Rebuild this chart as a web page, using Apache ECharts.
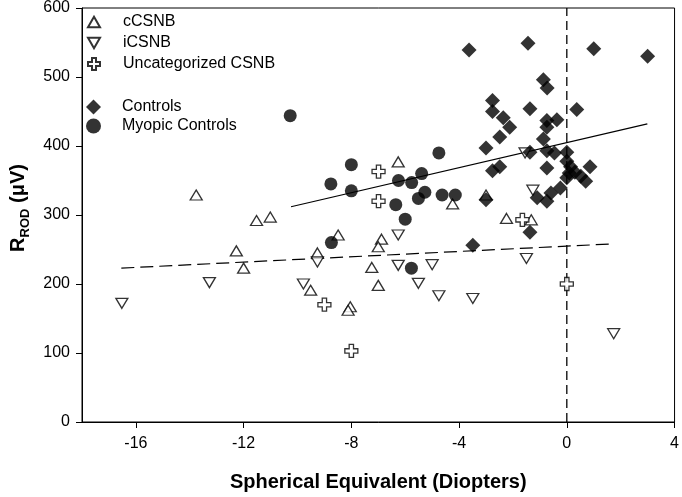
<!DOCTYPE html>
<html>
<head>
<meta charset="utf-8">
<script src="https://cdn.jsdelivr.net/npm/echarts@6/dist/echarts.min.js"></script>
<style>html,body{margin:0;padding:0;background:#fff}#c{width:682px;height:497px}</style>
</head>
<body>
<div id="c"></div>
<script>
const xTicks = [-16, -12, -8, -4, 0, 4];
const cCSNB = [[-13.76,329],[-11.52,292],[-11.01,297],[-12.27,248],[-12.0,223],[-9.26,245],[-9.51,191],[-8.49,271],[-8.04,167],[-8.12,162],[-7.24,224],[-7.0,198],[-6.88,265],[-7.0,254],[-6.26,377],[-4.24,316],[-3.0,329],[-2.24,295],[-1.32,293]];
const iCSNB = [[-16.52,172],[-13.27,202],[-9.78,200],[-9.26,232],[-6.26,271],[-6.26,227],[-5.0,228],[-5.51,201],[-4.75,183],[-3.49,179],[-1.5,237],[1.74,128],[-1.26,336],[-1.55,390]];
const uncatCSNB = [[-6.99,363],[-6.99,320],[-9.0,170],[-8.0,103],[-1.65,293],[0.0,200]];
const controls = [[-3.63,539],[-1.44,549],[1.0,541],[3.0,530],[-0.87,496],[-0.73,484],[-2.76,466],[-2.76,450],[-2.36,441],[-2.12,427],[-2.49,413],[-1.37,454],[0.37,453],[-0.74,437],[-0.37,438],[-0.74,427],[-0.87,410],[-3.0,397],[-1.37,391],[-0.74,393],[-0.46,390],[0.0,391],[-2.76,364],[-2.49,370],[-0.74,368],[0.0,378],[0.14,370],[0.3,362],[0.09,361],[0.0,354],[0.86,370],[0.52,356],[0.7,349],[-0.24,339],[-0.59,332],[-1.1,325],[-0.74,320],[-3.0,322],[-1.37,275],[-3.49,256]];
const myopic = [[-10.27,444],[-4.75,390],[-8.0,373],[-5.39,360],[-6.25,350],[-5.76,347],[-8.76,345],[-8.0,335],[-5.27,333],[-4.63,329],[-4.14,329],[-5.51,324],[-6.35,315],[-6.0,294],[-8.74,260],[-5.77,223]];
const fitControls = [[-10.24,312],[2.99,432]];
const fitCSNB = [[-16.54,223],[1.62,258]];
const zeroLine = [[0,0],[0,600]];

const FONT = "'Liberation Sans', Arial, sans-serif";
const plusPath = 'path://M-1,-3L1,-3L1,-1L3,-1L3,1L1,1L1,3L-1,3L-1,1L-3,1L-3,-1L-1,-1Z';
const upTri = 'path://M0,-5L5.5,4.5L-5.5,4.5Z';
const downTri = 'path://M0,5L5.5,-4.5L-5.5,-4.5Z';
const openStyle = {color:'#fff', borderColor:'#000', borderWidth:1.3};

const chart = echarts.init(document.getElementById('c'), null, {renderer:'canvas'});
chart.setOption({
  animation:false,
  backgroundColor:'#fff',
  grid:{left:79, right:4, top:6, bottom:71, show:true, borderColor:'#000', borderWidth:1, backgroundColor:'transparent'},
  xAxis:{
    type:'value', min:-18, max:4,
    name:'Spherical Equivalent (Diopters)', nameLocation:'middle', nameGap:50,
    nameTextStyle:{fontFamily:FONT, fontSize:20, fontWeight:'bold', color:'#000'},
    axisLine:{show:true, onZero:false, lineStyle:{color:'#000', width:1}},
    axisTick:{show:true, length:6, inside:false, customValues:xTicks, lineStyle:{color:'#000'}},
    axisLabel:{customValues:xTicks, margin:14, fontFamily:FONT, fontSize:16, color:'#000'},
    splitLine:{show:false}
  },
  yAxis:{
    type:'value', min:0, max:600, interval:100,
    name:'{r|R}{s|ROD}{r| (μV)}', nameLocation:'middle', nameGap:54, nameRotate:90,
    nameTextStyle:{fontFamily:FONT, color:'#000', padding:[0,0,0,14],
      rich:{r:{fontFamily:FONT, fontSize:20, fontWeight:'bold', color:'#000', lineHeight:26, verticalAlign:'bottom'},
            s:{fontFamily:FONT, fontSize:13, fontWeight:'bold', color:'#000', lineHeight:26, verticalAlign:'bottom', padding:[0,0,-4,0]}}},
    axisLine:{show:true, onZero:false, lineStyle:{color:'#000', width:1}},
    axisTick:{show:true, length:6, inside:false, lineStyle:{color:'#000'}},
    axisLabel:{margin:12, fontFamily:FONT, fontSize:16, color:'#000'},
    splitLine:{show:false}
  },
  legend:[
    {left:87, top:14, orient:'vertical', padding:0, itemGap:5, itemWidth:12, itemHeight:12,
     data:['cCSNB','iCSNB','Uncategorized CSNB'],
     textStyle:{fontFamily:FONT, fontSize:16, color:'#000', lineHeight:16, padding:[0,0,0,18]}},
    {left:86, top:99, orient:'vertical', padding:0, itemGap:3, itemWidth:15, itemHeight:15,
     data:['Controls','Myopic Controls'],
     textStyle:{fontFamily:FONT, fontSize:16, color:'#000', lineHeight:16, padding:[0,0,0,16]}}
  ],
  series:[
    {type:'line', data:zeroLine, symbol:'none', silent:true, lineStyle:{color:'#000', width:1.3, type:[9,5]}, z:1},
    {type:'line', data:fitControls, symbol:'none', silent:true, lineStyle:{color:'#000', width:1.2}, z:1},
    {type:'line', data:fitCSNB, symbol:'none', silent:true, lineStyle:{color:'#000', width:1.2, type:[13,6]}, z:1},
    {name:'cCSNB', type:'scatter', data:cCSNB, symbol:upTri, symbolSize:[12,10], itemStyle:openStyle, z:3},
    {name:'iCSNB', type:'scatter', data:iCSNB, symbol:downTri, symbolSize:[12,10], itemStyle:openStyle, z:3},
    {name:'Uncategorized CSNB', type:'scatter', data:uncatCSNB, symbol:plusPath, symbolSize:13, itemStyle:openStyle, z:3},
    {name:'Controls', type:'scatter', data:controls, symbol:'diamond', symbolSize:[15,15], itemStyle:{color:'#000'}, z:4},
    {name:'Myopic Controls', type:'scatter', data:myopic, symbol:'circle', symbolSize:13, itemStyle:{color:'#000'}, z:4}
  ]
});
</script>
</body>
</html>
